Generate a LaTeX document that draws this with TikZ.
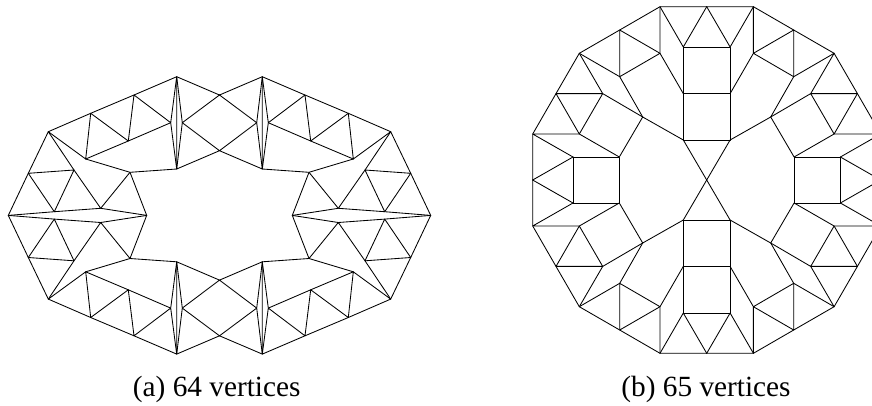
\documentclass[tikz,border=0pt]{standalone}
\usepackage{fontspec}
\setmainfont{Liberation Serif}
\tikzset{
  edge/.style={line width=0.85pt,black,line cap=round,line join=round},
  capt/.style={font=\fontsize{29.3}{32}\selectfont,inner sep=0pt,anchor=base}
}
\begin{document}
\begin{tikzpicture}[x=1pt,y=-1pt]
\useasboundingbox (0,0) rectangle (872,405);
\fill[white] (0,0) rectangle (872,405);
\clip (0,0) rectangle (872,405);
% ---- figure (a): one quadrant, mirrored four times
\foreach \sx/\sy in {1/1,-1/1,1/-1,-1/-1}{
\begin{scope}[shift={(219.5,215.4)},xscale=\sx,yscale=\sy]
  \coordinate (L) at (-211.2,0);
  \coordinate (A) at (-171.2,-83.7);
  \coordinate (B) at (-191.2,-42.1);
  \coordinate (C) at (-145.5,-45.4);
  \coordinate (D) at (-165.2,-3.7);
  \coordinate (E) at (-118.8,-7.1);
  \coordinate (R) at (-72.8,0);
  \coordinate (F) at (-89.5,-43.1);
  \coordinate (G) at (-133.8,-56.4);
  \coordinate (H) at (-128.8,-102.1);
  \coordinate (I) at (-91.2,-74.4);
  \coordinate (J) at (-85.5,-120.4);
  \coordinate (K) at (-48.8,-92.7);
  \coordinate (T) at (-42.8,-138.7);
  \coordinate (U) at (-42.8,-46.4);
  \coordinate (V) at (-37.2,-92.7);
  \coordinate (W) at (0,-120.4);
  \coordinate (X) at (0,-64.7);
  \draw[edge] (L)--(B)--(A)--(H)--(J)--(T)--(W);
  \draw[edge] (A)--(G)--(H)--(I)--(J)--(K)--(T)--(V)--(U)--(K);
  \draw[edge] (T)--(U)--(X)--(V)--(W);
  \draw[edge] (G)--(I)--(K);
  \draw[edge] (G)--(F)--(U);
  \draw[edge] (A)--(C)--(E)--(F)--(R)--(E)--(D)--(L);
  \draw[edge] (B)--(C)--(D)--(B);
\end{scope}}
% ---- figure (b): one quadrant, mirrored four times
\foreach \sx/\sy in {1/1,-1/1,1/-1,-1/-1}{
\begin{scope}[shift={(706.7,180)},xscale=\sx,yscale=\sy]
  \coordinate (c0) at (0,0);
  \coordinate (o1) at (-46.7,-173.3);
  \coordinate (n0) at (0,-173.3);
  \coordinate (n1) at (-87,-150);
  \coordinate (o2) at (-127.4,-126.7);
  \coordinate (n2) at (-150.7,-86.4);
  \coordinate (o3) at (-174,-46);
  \coordinate (n3) at (-174,0);
  \coordinate (a) at (-23.4,-133);
  \coordinate (a0) at (0,-133);
  \coordinate (b) at (-46.7,-126.7);
  \coordinate (p) at (-87,-103.3);
  \coordinate (d) at (-23.4,-86.4);
  \coordinate (d0) at (0,-86.4);
  \coordinate (e) at (-23.4,-40);
  \coordinate (e0) at (0,-40);
  \coordinate (f) at (-64,-63);
  \coordinate (g) at (-104,-86.4);
  \coordinate (h) at (-127.4,-46);
  \coordinate (i) at (-87.4,-23);
  \coordinate (i0) at (-87.4,0);
  \coordinate (j) at (-133.7,-23);
  \coordinate (j0) at (-133.7,0);
  \draw[edge] (n0)--(o1)--(n1)--(o2)--(n2)--(o3)--(n3);
  \draw[edge] (o1)--(a)--(n0);
  \draw[edge] (a0)--(a)--(d)--(e)--(e0);
  \draw[edge] (d)--(d0);
  \draw[edge] (o1)--(b)--(d);
  \draw[edge] (b)--(n1)--(p)--(b);
  \draw[edge] (o2)--(p)--(f);
  \draw[edge] (o2)--(g)--(n2)--(h)--(g)--(f)--(e)--(c0);
  \draw[edge] (f)--(i)--(h)--(o3)--(j)--(n3);
  \draw[edge] (j)--(i)--(i0);
  \draw[edge] (j)--(j0);
\end{scope}}
\node[capt] (capa) at (216.7,396.7) {(a) 64 vertices};
\node[capt] (capb) at (706,396.7) {(b) 65 vertices};
\end{tikzpicture}
\end{document}
